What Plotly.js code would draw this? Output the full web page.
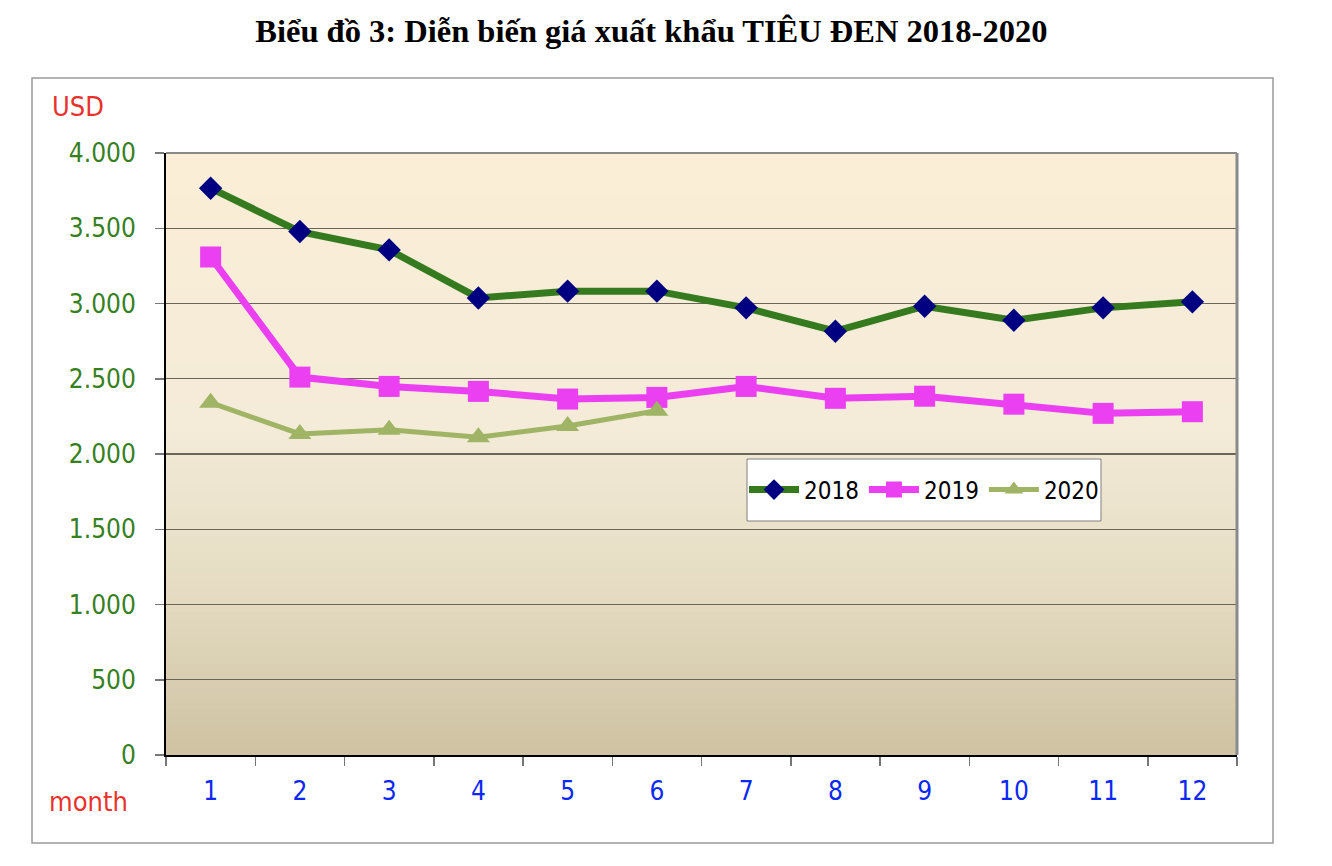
<!DOCTYPE html>
<html>
<head>
<meta charset="utf-8">
<script src="https://cdn.plot.ly/plotly-3.0.1.min.js"></script>
<style>html,body{margin:0;padding:0;background:#fff;}#chart{width:1332px;height:866px;}</style>
</head>
<body>
<div id="chart"></div>
<script>
// ---- data ----
const months = ["1","2","3","4","5","6","7","8","9","10","11","12"];
const price2018 = [3766, 3478, 3356, 3037, 3082, 3082, 2971, 2816, 2982, 2889, 2971, 3011];
const price2019 = [3309, 2511, 2449, 2416, 2365, 2376, 2449, 2370, 2384, 2331, 2270, 2281];
const price2020 = [2341, 2133, 2161, 2112, 2186, 2287];
const yTicks = [0, 500, 1000, 1500, 2000, 2500, 3000, 3500, 4000];
const titleText = "Biểu đồ 3: Diễn biến giá xuất khẩu TIÊU ĐEN 2018-2020";

const FONT = '"DejaVu Sans Condensed", "DejaVu Sans", Verdana, sans-serif';

// plot area pixel geometry (for converting to paper coords)
const L=166, R=1237, T=153, B=755;
const px=(x)=>(x-L)/(R-L), py=(y)=>(B-y)/(B-T);

// gradient background bands for plot area
function hex(c){return [parseInt(c.slice(1,3),16),parseInt(c.slice(3,5),16),parseInt(c.slice(5,7),16)];}
const stops = [[0,'#FBEED6'],[0.45,'#F4EBD8'],[0.72,'#E5DCC3'],[1,'#CEC2A2']];
function colorAt(t){
  for(let i=0;i<stops.length-1;i++){
    const [t0,c0]=stops[i],[t1,c1]=stops[i+1];
    if(t>=t0&&t<=t1){const f=(t-t0)/(t1-t0);const a=hex(c0),b=hex(c1);
      return 'rgb('+a.map((v,k)=>Math.round(v+(b[k]-v)*f)).join(',')+')';}
  }
  return stops[stops.length-1][1];
}
const shapes=[];
const N=80;
for(let i=0;i<N;i++){
  const t=(i+0.5)/N;
  shapes.push({type:'rect',xref:'x domain',yref:'y domain',x0:0,x1:1,y0:1-(i+1)/N-0.002,y1:1-i/N,
    fillcolor:colorAt(t),line:{width:0},layer:'below'});
}
// plot-area border (gray top/right)
shapes.push({type:'line',xref:'x domain',yref:'y domain',x0:0,x1:1,y0:1,y1:1,line:{color:'#8a8a8a',width:2},layer:'above'});
shapes.push({type:'line',xref:'x domain',yref:'y domain',x0:1,x1:1,y0:0,y1:1,line:{color:'#8a8a8a',width:3},layer:'above'});
// outer chart frame
shapes.push({type:'rect',xref:'paper',yref:'paper',x0:px(32),x1:px(1273),y0:py(843),y1:py(78),line:{color:'#9a9a9a',width:1.5},fillcolor:'rgba(0,0,0,0)'});
// legend box
shapes.push({type:'rect',xref:'paper',yref:'paper',x0:px(747),x1:px(1101),y0:py(521),y1:py(459),line:{color:'#808080',width:1},fillcolor:'#ffffff',layer:'above'});

const traces=[
  {x:months,y:price2018,name:'2018',type:'scatter',mode:'lines+markers',
   line:{color:'#357A1F',width:7},marker:{symbol:'diamond',size:18,color:'#000080'}},
  {x:months,y:price2019,name:'2019',type:'scatter',mode:'lines+markers',
   line:{color:'#EA40F2',width:7},marker:{symbol:'square',size:21,color:'#EA40F2'}},
  {x:months.slice(0,price2020.length),y:price2020,name:'2020',type:'scatter',mode:'lines+markers',
   line:{color:'#9FB464',width:5},marker:{symbol:'triangle-up',size:20,color:'#9FB464'}}
];

const layout={
  width:1332,height:866,
  margin:{l:L,r:1332-R,t:T,b:866-B},
  paper_bgcolor:'#ffffff',plot_bgcolor:'rgba(0,0,0,0)',
  separators:',.',
  showlegend:true,
  title:{text:titleText,x:0.489,xanchor:'center',y:0.965,yanchor:'middle',yref:'container',
    font:{family:'"Liberation Serif","Times New Roman",serif',size:32.5,color:'#000',weight:'bold'}},
  xaxis:{type:'category',range:[-0.5,11.5],tickson:'boundaries',ticks:'outside',ticklen:9,tickcolor:'#777',tickwidth:1.5,
    showline:true,linecolor:'#000',linewidth:2,showgrid:false,zeroline:false,
    tickfont:{family:FONT,size:26,color:'#0a28f5'},ticklabelstandoff:12,fixedrange:true},
  yaxis:{range:[0,4000],tickvals:yTicks,tickformat:',d',ticks:'outside',ticklen:9,tickcolor:'#777',tickwidth:1.5,
    showline:true,linecolor:'#000',linewidth:2,showgrid:true,gridcolor:'#6b6559',gridwidth:1.3,zeroline:false,
    tickfont:{family:FONT,size:26,color:'#37801F'},ticklabelstandoff:14,fixedrange:true},
  legend:{orientation:'h',x:px(924),xanchor:'center',y:py(490),yanchor:'middle',bgcolor:'rgba(0,0,0,0)',borderwidth:0,
    font:{family:FONT,size:24,color:'#000'},itemwidth:50,tracegroupgap:0,traceorder:'normal'},
  annotations:[
    {text:'USD',xref:'paper',yref:'paper',x:px(78),y:py(106),xanchor:'center',yanchor:'middle',showarrow:false,
     font:{family:FONT,size:27,color:'#E8322B'}},
    {text:'month',xref:'paper',yref:'paper',x:px(88),y:py(801),xanchor:'center',yanchor:'middle',showarrow:false,
     font:{family:FONT,size:27,color:'#E8322B'}}
  ],
  shapes:shapes
};
Plotly.newPlot('chart',traces,layout,{displayModeBar:false,staticPlot:true});
</script>
</body>
</html>
